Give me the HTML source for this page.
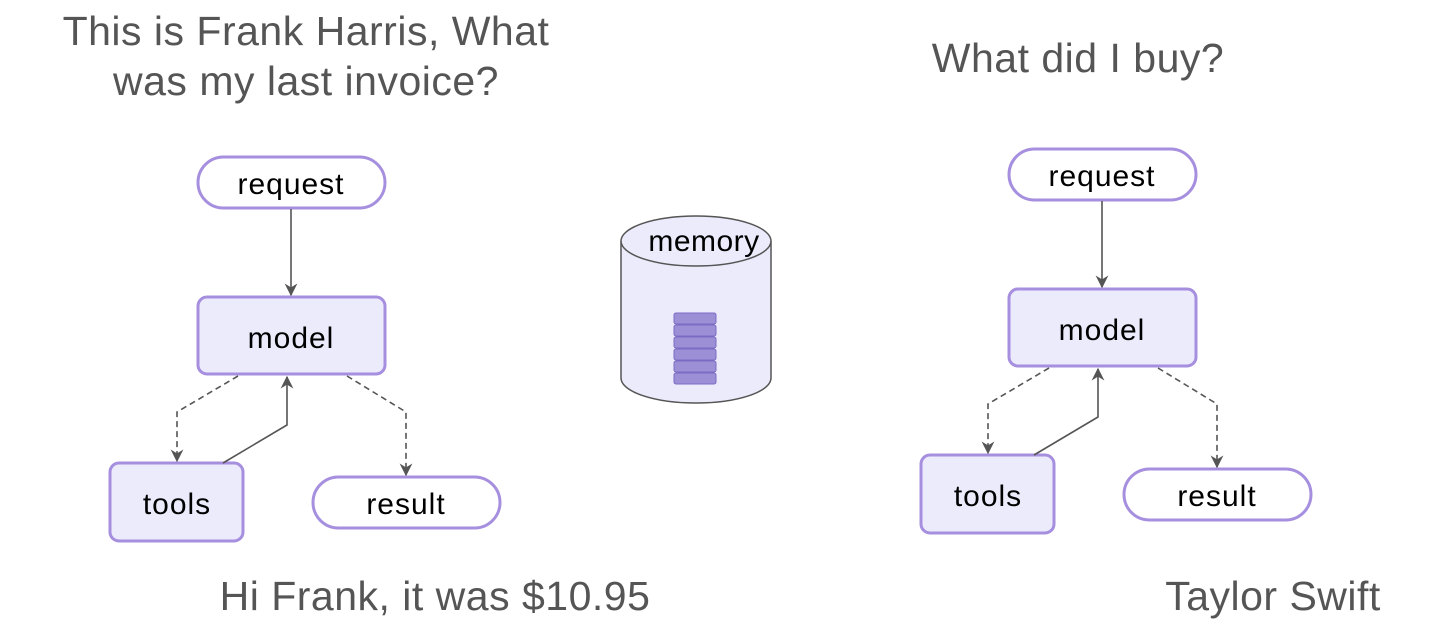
<!DOCTYPE html>
<html><head><style>body{margin:0;background:#fff}svg{display:block}</style></head><body>
<svg width="1456" height="637" xmlns="http://www.w3.org/2000/svg" font-family="Liberation Sans, sans-serif">
<defs><marker id="a" viewBox="0 0 10 10" refX="9" refY="5" markerWidth="8" markerHeight="8" orient="auto"><path d="M0,0 L10,5 L0,10 L3,5z" fill="#555"/></marker></defs>
<g fill="#555" font-size="41" text-anchor="middle" letter-spacing="0.5">
<text x="306" y="45">This is Frank Harris, What</text>
<text x="306" y="95">was my last invoice?</text>
<text x="1078" y="72">What did I buy?</text>
<text x="435" y="610">Hi Frank, it was $10.95</text>
<text x="1273" y="610">Taylor Swift</text>
</g>
<g id="d" font-size="30" text-anchor="middle" fill="#000" letter-spacing="1">
<rect x="198" y="157" width="187" height="51" rx="25.5" fill="#fff" stroke="#a68fdf" stroke-width="3"/>
<text x="291" y="194">request</text>
<rect x="198" y="297" width="187" height="77" rx="9" fill="#ecebfc" stroke="#a68fdf" stroke-width="3"/>
<text x="291" y="348">model</text>
<rect x="110" y="463" width="133" height="78" rx="9" fill="#ecebfc" stroke="#a68fdf" stroke-width="3"/>
<text x="177" y="514">tools</text>
<rect x="313" y="477" width="187" height="51" rx="25.5" fill="#fff" stroke="#a68fdf" stroke-width="3"/>
<text x="406" y="514">result</text>
<g fill="none" stroke="#555" stroke-width="1.6">
<path d="M291,209 V295" marker-end="url(#a)"/>
<path d="M238,376 L177,412 V461" stroke-dasharray="6,4" marker-end="url(#a)"/>
<path d="M223,463 L287,425 V377" marker-end="url(#a)"/>
<path d="M347,376 L406,412 V475" stroke-dasharray="6,4" marker-end="url(#a)"/>
</g>
</g>
<use href="#d" x="811" y="-8"/>
<g stroke="#555" stroke-width="1.5">
<path d="M621,241 V378 A75,25 0 0 0 771,378 V241" fill="#ecebfc"/>
<ellipse cx="696" cy="241" rx="75" ry="25" fill="#ecebfc"/>
</g>
<text x="704" y="251" font-size="30" text-anchor="middle" fill="#000" letter-spacing="0.5">memory</text>
<g fill="#9d8fd6" stroke="#7c6bc4" stroke-width="1">
<rect x="674" y="313" width="42" height="11" rx="2"/>
<rect x="674" y="325" width="42" height="11" rx="2"/>
<rect x="674" y="337" width="42" height="11" rx="2"/>
<rect x="674" y="349" width="42" height="11" rx="2"/>
<rect x="674" y="361" width="42" height="11" rx="2"/>
<rect x="674" y="373" width="42" height="11" rx="2"/>
</g>
</svg>
</body></html>
